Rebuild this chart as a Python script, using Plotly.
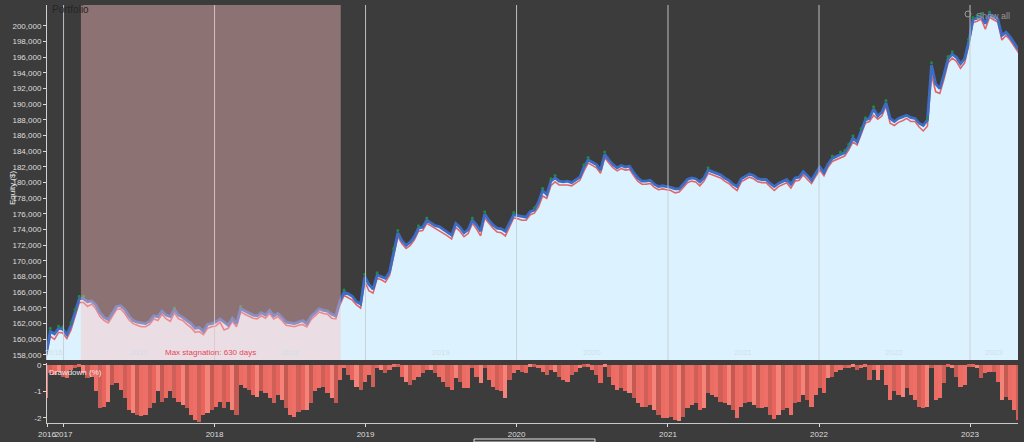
import pandas as pd
import plotly.graph_objects as go

start_date = "2016-11-20"
step = "10D"

equity = [
 158.0,161.0,160.7,161.4,161.3,160.6,161.8,163.5,165.2,165.2,
 164.8,164.9,164.4,163.4,162.8,162.5,163.4,164.2,164.3,163.8,
 163.0,162.4,162.2,162.1,162.0,162.3,163.0,162.9,163.6,163.1,
 162.9,163.8,163.1,162.8,162.4,162.0,161.4,161.5,161.0,161.9,
 162.0,162.2,162.6,162.2,161.8,162.7,162.0,163.9,163.6,163.4,
 163.1,163.0,163.4,163.1,163.7,163.0,163.3,162.8,162.2,162.1,
 162.0,162.2,162.4,162.0,162.9,163.4,163.9,163.7,163.6,163.2,
 163.0,164.9,166.0,165.8,165.5,164.8,164.5,168.0,167.0,166.4,
 168.2,168.0,167.8,168.6,171.3,173.6,172.6,172.0,172.4,173.1,
 174.2,174.3,175.2,174.9,174.5,174.4,174.0,173.7,173.3,174.8,
 174.3,173.6,174.0,175.2,174.6,173.8,176.0,175.2,174.6,174.2,
 174.1,173.8,174.8,175.9,175.8,175.7,175.6,176.3,176.5,177.5,
 179.0,178.5,180.2,180.6,180.2,180.1,180.2,180.0,180.4,180.7,
 182.0,182.9,182.6,182.3,181.6,183.6,182.9,182.3,181.9,182.2,
 182.0,182.1,181.3,180.6,180.2,180.2,180.3,179.8,179.5,179.6,
 179.5,179.4,179.2,179.2,179.8,180.4,180.6,180.5,180.1,180.6,
 181.6,181.4,181.3,181.0,180.6,180.3,179.8,179.5,180.5,180.8,
 181.1,180.9,180.5,180.4,180.4,179.9,179.5,179.9,180.2,180.4,
 179.8,180.6,180.7,181.4,180.9,180.3,181.2,182.0,181.3,182.4,
 183.1,183.3,183.6,183.8,184.6,185.7,185.2,186.6,188.0,188.2,
 189.4,188.5,189.0,190.2,188.2,187.8,188.2,188.4,188.6,188.3,
 188.2,187.6,187.3,188.0,195.0,192.6,192.0,193.8,195.8,196.4,
 196.0,195.2,195.8,198.0,200.8,201.0,201.3,200.3,201.5,201.2,
 200.9,198.8,199.2,198.6,197.8,197.0,
]

equity_low = [
 158.0,160.4,160.0,160.9,160.8,160.1,161.2,162.9,164.7,164.7,
 164.2,164.5,163.9,162.9,162.4,162.1,163.0,163.8,163.9,163.3,
 162.5,162.0,161.8,161.6,161.6,161.9,162.6,162.4,163.2,162.6,
 162.3,163.4,162.6,162.4,161.9,161.5,160.9,161.0,160.6,161.4,
 161.6,161.7,162.2,161.2,161.4,162.3,161.6,163.5,163.2,162.9,
 162.7,162.6,163.0,162.7,163.3,162.6,162.9,162.4,161.8,161.7,
 161.6,161.8,161.9,161.6,162.5,163.0,163.5,163.3,163.2,162.7,
 162.6,164.4,165.6,165.3,165.0,164.4,164.0,167.4,166.2,165.9,
 167.8,167.6,167.3,168.2,170.9,173.1,172.2,171.6,172.0,172.7,
 173.8,173.9,174.8,174.5,174.1,173.9,173.6,173.2,172.8,174.3,
 173.8,173.1,173.5,174.8,174.1,173.2,175.5,174.8,174.2,173.7,
 173.6,173.2,174.3,175.5,175.4,175.2,175.2,175.9,176.1,176.9,
 178.3,178.0,179.6,180.1,179.7,179.7,179.7,179.6,179.9,180.3,
 181.5,182.5,182.2,181.9,181.2,183.2,182.5,181.9,181.5,181.8,
 181.6,181.7,180.9,180.2,179.8,179.8,179.9,179.4,179.1,179.2,
 179.1,179.0,178.7,178.8,179.4,180.0,180.2,180.1,179.6,180.2,
 181.2,181.0,180.9,180.6,180.2,179.9,179.4,179.0,180.1,180.4,
 180.7,180.5,180.1,180.0,180.0,179.5,179.0,179.5,179.8,180.0,
 179.3,180.2,180.3,181.0,180.4,179.9,180.8,181.6,180.9,182.0,
 182.7,182.9,183.2,183.4,184.2,185.2,184.8,186.2,187.6,187.8,
 188.6,188.1,188.5,189.8,187.6,187.3,187.7,187.9,188.2,187.8,
 187.8,187.1,186.6,187.2,193.8,191.6,191.4,193.2,195.3,195.9,
 195.5,194.6,195.3,197.6,200.4,200.6,200.9,199.6,201.1,200.8,
 200.5,198.2,198.8,198.2,197.4,196.6,
]

drawdown = [
 -1.26,-.30,-.38,-.25,-.44,-.50,-.19,-.13,-.06,-.31,
 -.50,-.44,-1.00,-1.64,-1.57,-1.38,-.75,-.67,-.94,-1.26,
 -1.70,-1.82,-1.89,-1.92,-1.89,-1.64,-1.45,-1.00,-1.38,-1.26,
 -1.00,-1.26,-1.38,-1.51,-1.64,-1.89,-2.08,-2.14,-1.89,-1.82,
 -1.70,-1.57,-1.38,-1.64,-1.38,-1.70,-1.89,-.75,-.88,-.94,
 -1.13,-1.20,-1.00,-1.07,-1.26,-1.45,-1.13,-1.32,-1.64,-1.89,
 -1.95,-1.76,-1.70,-1.70,-1.45,-1.00,-.88,-.82,-1.07,-1.26,
 -1.45,-.57,-.13,-.38,-.57,-.82,-.94,-.63,-.38,-.82,
 -.13,-.19,-.31,-.19,-.06,-.06,-.44,-.63,-.75,-.57,
 -.44,-.31,-.19,-.19,-.31,-.44,-.63,-.82,-.94,-.50,
 -.63,-.88,-.88,-.13,-.44,-.69,-.13,-.57,-.82,-.94,
 -1.00,-1.26,-.57,-.31,-.19,-.25,-.31,-.06,-.06,-.13,
 -.25,-.38,-.19,-.25,-.44,-.57,-.63,-.38,-.25,-.13,
 -.06,-.06,-.19,-.38,-.69,-.06,-.44,-.75,-.94,-.88,
 -1.00,-1.07,-1.26,-1.45,-1.57,-1.57,-1.51,-1.70,-1.89,-2.01,
 -2.01,-1.95,-2.08,-2.10,-1.95,-1.64,-1.51,-1.45,-1.70,-1.64,
 -1.07,-1.13,-1.20,-1.38,-1.45,-1.51,-1.70,-2.01,-1.57,-1.45,
 -1.38,-1.51,-1.64,-1.64,-1.57,-1.89,-2.05,-1.89,-1.70,-1.64,
 -1.89,-1.45,-1.38,-1.13,-1.32,-1.57,-1.13,-.88,-1.07,-.50,
 -.44,-.25,-.19,-.13,-.13,-.06,-.19,-.13,-.06,-.57,
 -.19,-.57,-.19,-.75,-1.32,-1.00,-1.13,-1.20,-.88,-1.13,
 -1.32,-1.57,-1.64,-1.57,-.13,-1.32,-1.26,-.69,-.06,-.13,
 -.44,-.82,-.75,-.06,-.06,-.13,-.50,-.31,-.25,-.25,
 -.63,-1.32,-1.20,-1.32,-1.70,-2.08,
]

peak_idx = [1,3,4,6,7,8,9,31,47,72,77,80,84,85,90,92,103,106,113,118,120,122,123,130,131,135,
            160,190,192,193,194,195,197,198,200,203,213,214,218,219,223,224,225,226,228]
peak_val = [161.4,161.7,161.6,162.1,163.8,165.5,165.5,164.0,164.2,166.3,168.3,168.5,171.6,173.9,174.5,175.5,175.5,176.3,176.2,176.8,
            179.3,180.5,180.9,182.3,183.2,183.9,181.9,183.4,183.9,184.1,184.9,186.0,186.9,188.3,189.7,190.5,188.3,195.3,196.1,196.7,
            198.3,201.1,201.3,201.6,201.8]

year_ticks = ["2016-11-22","2017-01-01","2018-01-01","2019-01-01","2020-01-01","2021-01-01","2022-01-01","2023-01-01"]
year_tick_labels = ["2016","2017","2018","2019","2020","2021","2022","2023"]
year_lines = ["2017-01-01","2018-01-01","2019-01-01","2020-01-01","2021-01-01","2022-01-01","2023-01-01"]
year_caption_pos = ["2016-12-10","2017-07-02","2018-07-02","2019-07-02","2020-07-02","2021-07-02","2022-07-02","2023-02-28"]
year_captions = ["2016","2017","2018","2019","2020","2021","2022","2023"]
equity_ticks = list(range(158000, 202000, 2000))
dd_ticks = [0, -1, -2]
stagnation_start = "2017-02-12"
stagnation_end = "2018-11-02"
x_start = "2016-11-22"
x_end = "2023-04-27"

dates = pd.date_range(start_date, periods=len(equity), freq=step)
dd_dates = pd.date_range(start_date, periods=len(drawdown), freq=step)
eq = [v * 1000 for v in equity]
eq_low = [v * 1000 for v in equity_low]
peaks_x = [dates[i] for i in peak_idx]
peaks_y = [v * 1000 for v in peak_val]

W, H = 1024, 442
BG = "#3c3c3c"
TICK = "#dcdcdc"
tones = ["#ee6f67", "#cf6058", "#e8645c", "#f4837a", "#c45a52", "#ea6c63"]

def py(p):
    return 1 - p / H

fig = go.Figure()
fig.add_trace(go.Scatter(x=dates, y=eq, mode="lines", line=dict(width=0, color="#dcf3ff"),
                         fill="tozeroy", fillcolor="#dcf3ff", xaxis="x", yaxis="y", hoverinfo="skip"))
fig.add_trace(go.Scatter(x=dates, y=eq_low, mode="lines", line=dict(width=1.6, color="#e0666c"),
                         xaxis="x", yaxis="y", hoverinfo="skip"))
fig.add_trace(go.Scatter(x=dates, y=eq, mode="lines", line=dict(width=2.8, color="#3c6cc4"),
                         xaxis="x", yaxis="y", hoverinfo="skip"))
fig.add_trace(go.Scatter(x=peaks_x, y=peaks_y, mode="markers", marker=dict(size=3, color="#1f8a46"),
                         xaxis="x", yaxis="y", hoverinfo="skip"))
fig.add_trace(go.Bar(x=dd_dates, y=drawdown, width=10 * 86400000,
                     marker=dict(color=[tones[i % len(tones)] for i in range(len(drawdown))], line=dict(width=0)),
                     xaxis="x2", yaxis="y2", hoverinfo="skip"))

annos = [dict(x=x, y=py(352), xref="x", yref="paper", text=t, showarrow=False, xanchor="center", yanchor="middle",
              font=dict(size=8, color="#cfe0e8", family="Liberation Sans"))
         for x, t in zip(year_caption_pos, year_captions)]
annos += [
    dict(x=210 / W, y=py(352), xref="paper", yref="paper", xanchor="center", yanchor="middle",
         text="Max stagnation: 630 days", showarrow=False,
         font=dict(size=8, color="#e4485a", family="Liberation Sans")),
    dict(x=50 / W, y=py(9), xref="paper", yref="paper", xanchor="left", yanchor="middle",
         text="Portfolio", showarrow=False,
         font=dict(size=10, color="#262626", family="Liberation Sans")),
    dict(x=1012 / W, y=py(16), xref="paper", yref="paper", xanchor="right", yanchor="middle",
         text="Show all", showarrow=False,
         font=dict(size=9, color="#9a9a9a", family="Liberation Sans")),
    dict(x=12 / W, y=py(188), xref="paper", yref="paper", xanchor="center", yanchor="middle",
         text="Equity ($)", textangle=-90, showarrow=False,
         font=dict(size=8, color="#e8e8e8", family="Liberation Sans")),
    dict(x=47 / W, y=py(372), xref="paper", yref="paper", xanchor="left", yanchor="middle",
         text="Drawdown (%)", showarrow=False,
         font=dict(size=8, color="#f0e6e6", family="Liberation Sans")),
]

shapes = [
    dict(type="line", xref="x", yref="y domain", x0=d, x1=d, y0=0, y1=1,
         line=dict(width=1, color="rgba(200,206,210,0.9)"), layer="above")
    for d in year_lines
]
shapes += [
    dict(type="rect", xref="x", yref="y domain", x0=stagnation_start, x1=stagnation_end, y0=0, y1=1,
         fillcolor="rgba(253,191,191,0.42)", line=dict(width=0), layer="above"),
    dict(type="circle", xref="paper", yref="paper", x0=965 / W, x1=971 / W, y0=py(17), y1=py(11),
         line=dict(width=1, color="#9a9a9a")),
    dict(type="rect", xref="paper", yref="paper", x0=474 / W, x1=595 / W, y0=0, y1=py(439),
         line=dict(width=1, color="#e0e0e0")),
]

axis_font = dict(size=8, color=TICK, family="Liberation Sans")
fig.update_layout(
    width=W, height=H, margin=dict(l=0, r=0, t=0, b=0, pad=0, autoexpand=False),
    paper_bgcolor=BG, plot_bgcolor=BG, showlegend=False, bargap=0,
    annotations=annos, shapes=shapes,
    xaxis=dict(domain=[47 / W, 1018 / W], range=[x_start, x_end], type="date", anchor="y",
               tickvals=year_ticks, showticklabels=False, ticks="", showgrid=False,
               zeroline=False, showline=False),
    yaxis=dict(domain=[py(360), py(5)], range=[157360, 202680], anchor="x",
               tickvals=equity_ticks, ticktext=[f"{v:,}" for v in equity_ticks],
               tickfont=axis_font, ticks="outside", ticklen=3, tickcolor=TICK,
               showgrid=False, zeroline=False, showline=True, linecolor="#d0d0d0", linewidth=1),
    xaxis2=dict(domain=[47 / W, 1018 / W], range=[x_start, x_end], type="date", anchor="y2",
                tickvals=year_ticks, ticktext=year_tick_labels, tickfont=axis_font, tickangle=0,
                ticks="outside", ticklen=3, tickcolor=TICK, showgrid=False, zeroline=False,
                showline=True, linecolor="#c8c8c8", linewidth=1),
    yaxis2=dict(domain=[py(423), py(363)], range=[-2.19, 0.075], anchor="x2",
                tickvals=dd_ticks, ticktext=["0", "-1", "-2"], tickfont=axis_font,
                ticks="outside", ticklen=3, tickcolor=TICK, showgrid=False, zeroline=False,
                showline=True, linecolor="#d0d0d0", linewidth=1),
)

fig.write_html("out.html", config=dict(displayModeBar=False),
               post_script="document.body.style.margin='0';document.body.style.background='#3c3c3c';")
